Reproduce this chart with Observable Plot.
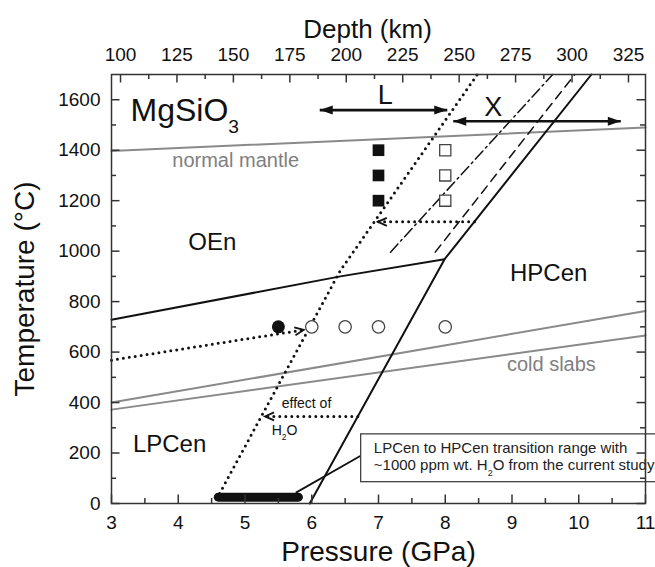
<!DOCTYPE html>
<html><head><meta charset="utf-8">
<script src="https://cdn.jsdelivr.net/npm/d3@7"></script>
<script src="https://cdn.jsdelivr.net/npm/@observablehq/plot@0.6"></script>
<style>
html,body{margin:0;padding:0;background:#fff;}
#chart svg{display:block;}
</style>
</head><body><div id="chart"></div>
<script>
// ---- axes / ticks ----
const pressureTicks = [3, 4, 5, 6, 7, 8, 9, 10, 11];
const pressureMinorTicks = [3.5, 4.5, 5.5, 6.5, 7.5, 8.5, 9.5, 10.5];
const temperatureTicks = [0, 200, 400, 600, 800, 1000, 1200, 1400, 1600];
const temperatureMinorTicks = [100, 300, 500, 700, 900, 1100, 1300, 1500];
const depthTicks = [100, 125, 150, 175, 200, 225, 250, 275, 300, 325];
const depthMinorTicks = [112.5, 137.5, 162.5, 187.5, 212.5, 237.5, 262.5, 287.5, 312.5];
const depthAnchorKm = [100, 325];
const depthAnchorGPa = [3.135, 10.745];

// ---- curves (pressure GPa, temperature °C) ----
const normalMantleP = [3, 11], normalMantleT = [1397, 1490];
const coldSlabUpperP = [3, 11], coldSlabUpperT = [400, 763];
const coldSlabLowerP = [3, 11], coldSlabLowerT = [372, 666];
const oenBoundaryP = [3, 6.43, 7.99], oenBoundaryT = [728, 900, 968];
const hpcenBoundaryP = [5.97, 7.99, 10.19], hpcenBoundaryT = [0, 968, 1700];
const wetHpcenP = [4.62, 6.43, 8.48], wetHpcenT = [40, 924, 1700];
const wetOenP = [3, 5.88], wetOenT = [568, 688];
const xDashedP = [7.85, 9.94], xDashedT = [996, 1700];
const xDashDotP = [7.18, 9.61], xDashDotT = [996, 1700];

// ---- experiments ----
const filledSquareP = [7, 7, 7], filledSquareT = [1200, 1300, 1400];
const openSquareP = [8, 8, 8], openSquareT = [1200, 1300, 1400];
const filledCircleP = [5.5], filledCircleT = [700];
const openCircleP = [6, 6.5, 7, 8], openCircleT = [700, 700, 700, 700];

// ---- range arrows (double headed) ----
const rangeArrowStartP = [6.12, 8.12], rangeArrowEndP = [8.03, 10.63], rangeArrowT = [1559, 1515];
// ---- water-effect arrows (dotted, point left) ----
const waterArrowFromP = [8.44, 6.69], waterArrowToP = [6.99, 5.3], waterArrowT = [1116, 345];

// ---- transition range bar and callout ----
const rangeBarP = [4.6, 5.8], rangeBarT = [25, 25];
const calloutLineP = [6.74, 5.77], calloutLineT = [190, 44];
const calloutBoxP = [6.74, 11.3], calloutBoxT = [84.5, 274];

// ---- labels ----
const labelText = ["MgSiO_3", "normal mantle", "OEn", "HPCen", "LPCen", "cold slabs", "L", "X", "effect of", "H_2O",
  "LPCen to HPCen transition range with", "~1000 ppm wt. H_2O from the current study"];
const labelP = [3.285, 4.86, 4.51, 9.55, 3.87, 9.59, 7.1, 8.72, 5.55, 5.4, 6.93, 6.93];
const labelT = [1557, 1357, 1035, 912, 235, 551, 1618, 1571, 396, 290, 218, 151];
const labelSize = [32, 20, 24, 24, 24, 20, 27, 27, 14, 14, 15, 15];
const labelColor = ["#111", "#808080", "#111", "#111", "#111", "#808080", "#111", "#111", "#111", "#111", "#222", "#222"];
const labelAnchor = ["start", "middle", "middle", "middle", "middle", "middle", "middle", "middle", "start", "start", "start", "start"];

const xTitle = "Pressure (GPa)", yTitle = "Temperature (°C)", topTitle = "Depth (km)";

// ---- helpers ----
const rows = (P, T) => P.map((p, i) => ({p, t: T[i]}));
const depthToP = d => depthAnchorGPa[0] + (d - depthAnchorKm[0]) * (depthAnchorGPa[1] - depthAnchorGPa[0]) / (depthAnchorKm[1] - depthAnchorKm[0]);

const W = 655, H = 567, mT = 74, mB = 64, mL = 111, mR = 10;
const fw = W - mL - mR, fh = H - mT - mB;

const triLeft = {draw(c) { c.moveTo(0, 0); c.lineTo(13, -4.5); c.lineTo(13, 4.5); c.closePath(); }};
const triRight = {draw(c) { c.moveTo(0, 0); c.lineTo(-13, -4.5); c.lineTo(-13, 4.5); c.closePath(); }};
const vLeft = {draw(c) { c.moveTo(9, -4); c.lineTo(0, 0); c.lineTo(9, 4); }};
const vRight = {draw(c) { c.moveTo(-9, -4); c.lineTo(0, 0); c.lineTo(-9, 4); }};

const black = "#111", gray = "#8a8a8a", tickColor = "#333";
const dotted = {stroke: black, strokeWidth: 3, strokeDasharray: "0,6", strokeLinecap: "round"};

const rangeArrows = rangeArrowT.map((t, i) => ({a: rangeArrowStartP[i], b: rangeArrowEndP[i], t}));
const waterArrows = waterArrowT.map((t, i) => ({a: waterArrowFromP[i], b: waterArrowToP[i], t}));
const labels = labelText.map((text, i) => ({text, p: labelP[i], t: labelT[i], size: labelSize[i], color: labelColor[i], anchor: labelAnchor[i]}));
const wetOenRows = rows(wetOenP, wetOenT);

const marks = [
  // reference geotherms
  Plot.line(rows(normalMantleP, normalMantleT), {x: "p", y: "t", stroke: gray, strokeWidth: 2}),
  Plot.line(rows(coldSlabUpperP, coldSlabUpperT), {x: "p", y: "t", stroke: gray, strokeWidth: 2}),
  Plot.line(rows(coldSlabLowerP, coldSlabLowerT), {x: "p", y: "t", stroke: gray, strokeWidth: 2}),
  // phase boundaries
  Plot.line(rows(oenBoundaryP, oenBoundaryT), {x: "p", y: "t", stroke: black, strokeWidth: 2}),
  Plot.line(rows(hpcenBoundaryP, hpcenBoundaryT), {x: "p", y: "t", stroke: black, strokeWidth: 2}),
  Plot.line(rows(xDashedP, xDashedT), {x: "p", y: "t", stroke: black, strokeWidth: 1.5, strokeDasharray: "9,6"}),
  Plot.line(rows(xDashDotP, xDashDotT), {x: "p", y: "t", stroke: black, strokeWidth: 1.5, strokeDasharray: "11,4,2,4"}),
  Plot.line(rows(wetHpcenP, wetHpcenT), {x: "p", y: "t", ...dotted}),
  Plot.line(wetOenRows, {x: "p", y: "t", ...dotted}),
  Plot.dot([wetOenRows[wetOenRows.length - 1]], {x: "p", y: "t", symbol: vRight, fill: "none", stroke: black, strokeWidth: 1.8, rotate: -9}),
  // water-effect arrows
  Plot.link(waterArrows, {x1: "a", x2: "b", y1: "t", y2: "t", ...dotted}),
  Plot.dot(waterArrows, {x: "b", y: "t", symbol: vLeft, fill: "none", stroke: black, strokeWidth: 1.8}),
  // range arrows
  Plot.link(rangeArrows, {x1: "a", x2: "b", y1: "t", y2: "t", stroke: black, strokeWidth: 2.6}),
  Plot.dot(rangeArrows, {x: "a", y: "t", symbol: triLeft, fill: black, stroke: "none"}),
  Plot.dot(rangeArrows, {x: "b", y: "t", symbol: triRight, fill: black, stroke: "none"}),
  // experiments
  Plot.dot(rows(filledSquareP, filledSquareT), {x: "p", y: "t", symbol: "square", r: 6.6, fill: black, stroke: "none"}),
  Plot.dot(rows(openSquareP, openSquareT), {x: "p", y: "t", symbol: "square", r: 6.3, fill: "white", stroke: "#444", strokeWidth: 1.3}),
  Plot.dot(rows(filledCircleP, filledCircleT), {x: "p", y: "t", r: 6.5, fill: black, stroke: "none"}),
  Plot.dot(rows(openCircleP, openCircleT), {x: "p", y: "t", r: 6.2, fill: "white", stroke: "#444", strokeWidth: 1.3}),
  // transition range bar + callout
  Plot.line(rows(rangeBarP, rangeBarT), {x: "p", y: "t", stroke: black, strokeWidth: 9, strokeLinecap: "round"}),
  Plot.line(rows(calloutLineP, calloutLineT), {x: "p", y: "t", stroke: black, strokeWidth: 1.8}),
  Plot.rect([0], {x1: () => calloutBoxP[0], x2: () => calloutBoxP[1], y1: () => calloutBoxT[0], y2: () => calloutBoxT[1], fill: "white", stroke: "#444", strokeWidth: 1.3}),
  // labels
  ...labels.map(l => Plot.text([l], {x: "p", y: "t", text: "text", fontSize: l.size, fill: l.color, textAnchor: l.anchor, lineAnchor: "middle"})),
  // frame and ticks (inward)
  Plot.frame({stroke: tickColor, strokeWidth: 1.5}),
  Plot.ruleX(pressureTicks, {x: d => d, insetTop: fh - 8.5, stroke: tickColor, strokeWidth: 1.5}),
  Plot.ruleX(pressureMinorTicks, {x: d => d, insetTop: fh - 5, stroke: tickColor, strokeWidth: 1.5}),
  Plot.ruleX(depthTicks, {x: depthToP, insetBottom: fh - 8.5, stroke: tickColor, strokeWidth: 1.5}),
  Plot.ruleX(depthMinorTicks, {x: depthToP, insetBottom: fh - 5, stroke: tickColor, strokeWidth: 1.5}),
  Plot.ruleY(temperatureTicks, {y: d => d, insetRight: fw - 8.5, stroke: tickColor, strokeWidth: 1.5}),
  Plot.ruleY(temperatureMinorTicks, {y: d => d, insetRight: fw - 5, stroke: tickColor, strokeWidth: 1.5}),
  Plot.ruleY(temperatureTicks, {y: d => d, insetLeft: fw - 8.5, stroke: tickColor, strokeWidth: 1.5}),
  Plot.ruleY(temperatureMinorTicks, {y: d => d, insetLeft: fw - 5, stroke: tickColor, strokeWidth: 1.5}),
  // tick labels
  Plot.text(pressureTicks, {x: d => d, text: d => String(d), frameAnchor: "bottom", lineAnchor: "middle", textAnchor: "middle", dy: 19, fontSize: 19, fill: "#111"}),
  Plot.text(depthTicks, {x: depthToP, text: d => String(d), frameAnchor: "top", lineAnchor: "middle", textAnchor: "middle", dy: -20, fontSize: 19, fill: "#111"}),
  Plot.text(temperatureTicks, {y: d => d, text: d => String(d), frameAnchor: "left", lineAnchor: "middle", textAnchor: "end", dx: -11, fontSize: 19, fill: "#111"}),
  // titles
  Plot.text([xTitle], {frameAnchor: "bottom", lineAnchor: "middle", textAnchor: "middle", dy: 49, fontSize: 28, fill: "#111"}),
  Plot.text([topTitle], {frameAnchor: "top", lineAnchor: "middle", textAnchor: "middle", dy: -45, dx: -11, fontSize: 26, fill: "#111"}),
  Plot.text([yTitle], {frameAnchor: "left", lineAnchor: "middle", textAnchor: "middle", dx: -86, rotate: -90, fontSize: 28, fill: "#111"})
];

const chart = Plot.plot({
  width: W, height: H,
  marginTop: mT, marginBottom: mB, marginLeft: mL, marginRight: mR,
  x: {domain: [pressureTicks[0], pressureTicks[pressureTicks.length - 1]], axis: null},
  y: {domain: [0, 1700], axis: null},
  style: {fontFamily: "'Liberation Sans', Arial, Helvetica, sans-serif", background: "white", overflow: "hidden"},
  marks
});

// subscripts: "_n" -> lowered smaller digit
function applySubscripts(svg) {
  const ns = "http://www.w3.org/2000/svg";
  svg.querySelectorAll("text").forEach(t => {
    const s = t.textContent;
    if (!/_\d/.test(s)) return;
    const holder = t.hasAttribute("font-size") ? t : t.closest("[font-size]");
    const fs = parseFloat(holder ? holder.getAttribute("font-size") : 12);
    const parts = s.split(/_(\d)/);
    t.textContent = "";
    parts.forEach((part, i) => {
      if (!part) return;
      const ts = document.createElementNS(ns, "tspan");
      ts.textContent = part;
      if (i % 2 === 1) {
        ts.setAttribute("font-size", fs * 0.6);
        ts.setAttribute("dy", fs * 0.38);
      } else if (i > 0) {
        ts.setAttribute("dy", -fs * 0.38);
      }
      t.appendChild(ts);
    });
  });
}
applySubscripts(chart);
document.getElementById("chart").appendChild(chart);
</script>
</body></html>
